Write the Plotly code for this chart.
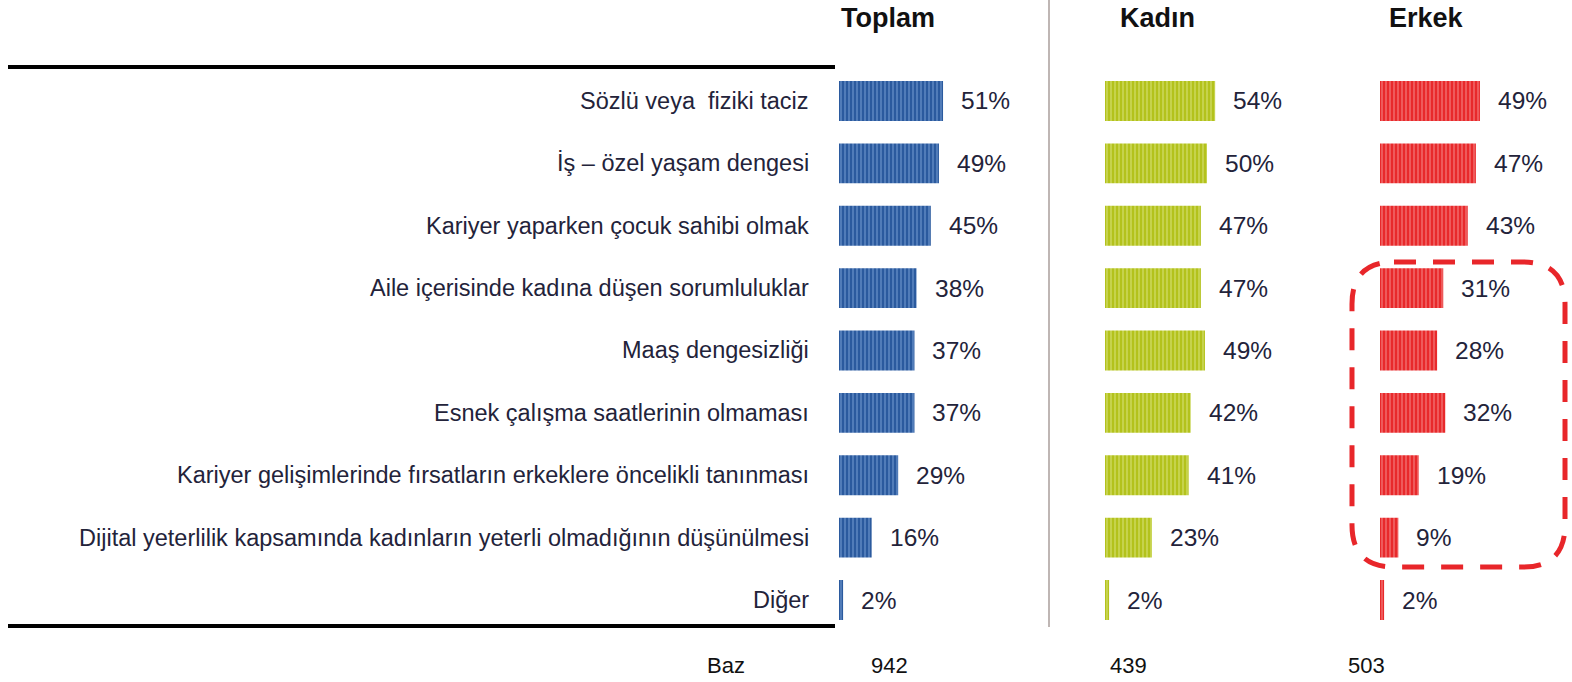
import plotly.graph_objects as go

categories = [
    "Sözlü veya  fiziki taciz",
    "İş – özel yaşam dengesi",
    "Kariyer yaparken çocuk sahibi olmak",
    "Aile içerisinde kadına düşen sorumluluklar",
    "Maaş dengesizliği",
    "Esnek çalışma saatlerinin olmaması",
    "Kariyer gelişimlerinde fırsatların erkeklere öncelikli tanınması",
    "Dijital yeterlilik kapsamında kadınların yeterli olmadığının düşünülmesi",
    "Diğer",
]
toplam = [51, 49, 45, 38, 37, 37, 29, 16, 2]
kadin = [54, 50, 47, 47, 49, 42, 41, 23, 2]
erkek = [49, 47, 43, 31, 28, 32, 19, 9, 2]
groups = ["Toplam", "Kadın", "Erkek"]
baz_label = "Baz"
baz_values = ["942", "439", "503"]

W, H = 1572, 682
FONT = "Liberation Sans, Arial, sans-serif"
TXT = "#23233a"

styles = [
    dict(bg="#2b5a9e", fg="#8aafe0"),
    dict(bg="#b3c21c", fg="#e4ec94"),
    dict(bg="#e8292b", fg="#f9a2a2"),
]
starts_px = [839, 1105, 1380]
px_per_pct = 2.04
xmax = 80
series = [toplam, kadin, erkek]

fig = go.Figure()
layout_axes = {}
for i, (vals, st, sx) in enumerate(zip(series, styles, starts_px)):
    xa = "x" if i == 0 else f"x{i+1}"
    fig.add_trace(go.Bar(
        x=vals, y=categories, orientation="h",
        xaxis=xa, yaxis="y",
        marker=dict(color=st["bg"], line=dict(width=0),
                    pattern=dict(shape="|", fgcolor=st["fg"], bgcolor=st["bg"],
                                 size=4, solidity=0.4, fillmode="overlay")),
        hoverinfo="skip", showlegend=False,
    ))
    key = "xaxis" if i == 0 else f"xaxis{i+1}"
    layout_axes[key] = dict(
        domain=[sx / W, (sx + xmax * px_per_pct) / W], range=[0, xmax],
        visible=False, anchor="y", fixedrange=True,
    )
    for v, c in zip(vals, categories):
        fig.add_annotation(x=v, y=c, xref=xa, yref="y", text=f"{v}%",
                           xanchor="left", yanchor="middle", xshift=16,
                           showarrow=False, font=dict(family=FONT, size=24.5, color=TXT))

top_px, bot_px = 69.8, 631.2
fig.update_layout(
    width=W, height=H, margin=dict(l=0, r=0, t=0, b=0),
    paper_bgcolor="white", plot_bgcolor="white",
    bargap=0.36,
    yaxis=dict(type="category", categoryorder="array", categoryarray=categories,
               range=[len(categories) - 0.5, -0.5], domain=[1 - bot_px / H, 1 - top_px / H],
               visible=False, fixedrange=True),
    **layout_axes,
)

# category labels
for c in categories:
    fig.add_annotation(x=811 / W, y=c, xref="paper", yref="y", text=c.replace("  ", "&nbsp; "),
                       xanchor="right", yanchor="middle", showarrow=False,
                       font=dict(family=FONT, size=23.5, color=TXT))

# headers
for g, cx in zip(groups, [888, 1157, 1426]):
    fig.add_annotation(x=cx / W, y=1 - 18 / H, xref="paper", yref="paper", text=f"<b>{g}</b>",
                       xanchor="center", yanchor="middle", showarrow=False,
                       font=dict(family=FONT, size=27, color="#111111"))

# baz row
fig.add_annotation(x=726 / W, y=1 - 665 / H, xref="paper", yref="paper", text=baz_label,
                   xanchor="center", yanchor="middle", showarrow=False,
                   font=dict(family=FONT, size=22, color="#111111"))
for b, cx in zip(baz_values, [889, 1128, 1366]):
    fig.add_annotation(x=cx / W, y=1 - 665 / H, xref="paper", yref="paper", text=b,
                       xanchor="center", yanchor="middle", showarrow=False,
                       font=dict(family=FONT, size=22, color="#111111"))

# horizontal rules
for ypx in [67, 626]:
    fig.add_shape(type="line", xref="paper", yref="paper",
                  x0=8 / W, x1=835 / W, y0=1 - ypx / H, y1=1 - ypx / H,
                  line=dict(color="black", width=4))
# vertical separator
fig.add_shape(type="line", xref="paper", yref="paper",
              x0=1049 / W, x1=1049 / W, y0=1, y1=1 - 627 / H,
              line=dict(color="#bfb6b4", width=2))

# dashed rounded highlight box
x0, x1, y0, y1, r = 1352, 1565, 262, 567, 42
def P(x, y):
    return f"{x / W:.5f},{1 - y / H:.5f}"
path = (f"M {P(x0 + r, y0)} L {P(x1 - r, y0)} Q {P(x1, y0)} {P(x1, y0 + r)} "
        f"L {P(x1, y1 - r)} Q {P(x1, y1)} {P(x1 - r, y1)} "
        f"L {P(x0 + r, y1)} Q {P(x0, y1)} {P(x0, y1 - r)} "
        f"L {P(x0, y0 + r)} Q {P(x0, y0)} {P(x0 + r, y0)} Z")
fig.add_shape(type="path", xref="paper", yref="paper", path=path,
              line=dict(color="#e8262a", width=5, dash="22px,17px"))

fig.write_html("out.html", config={"displayModeBar": False, "staticPlot": True},
               post_script="document.body.style.margin='0px';document.body.style.padding='0px';")
